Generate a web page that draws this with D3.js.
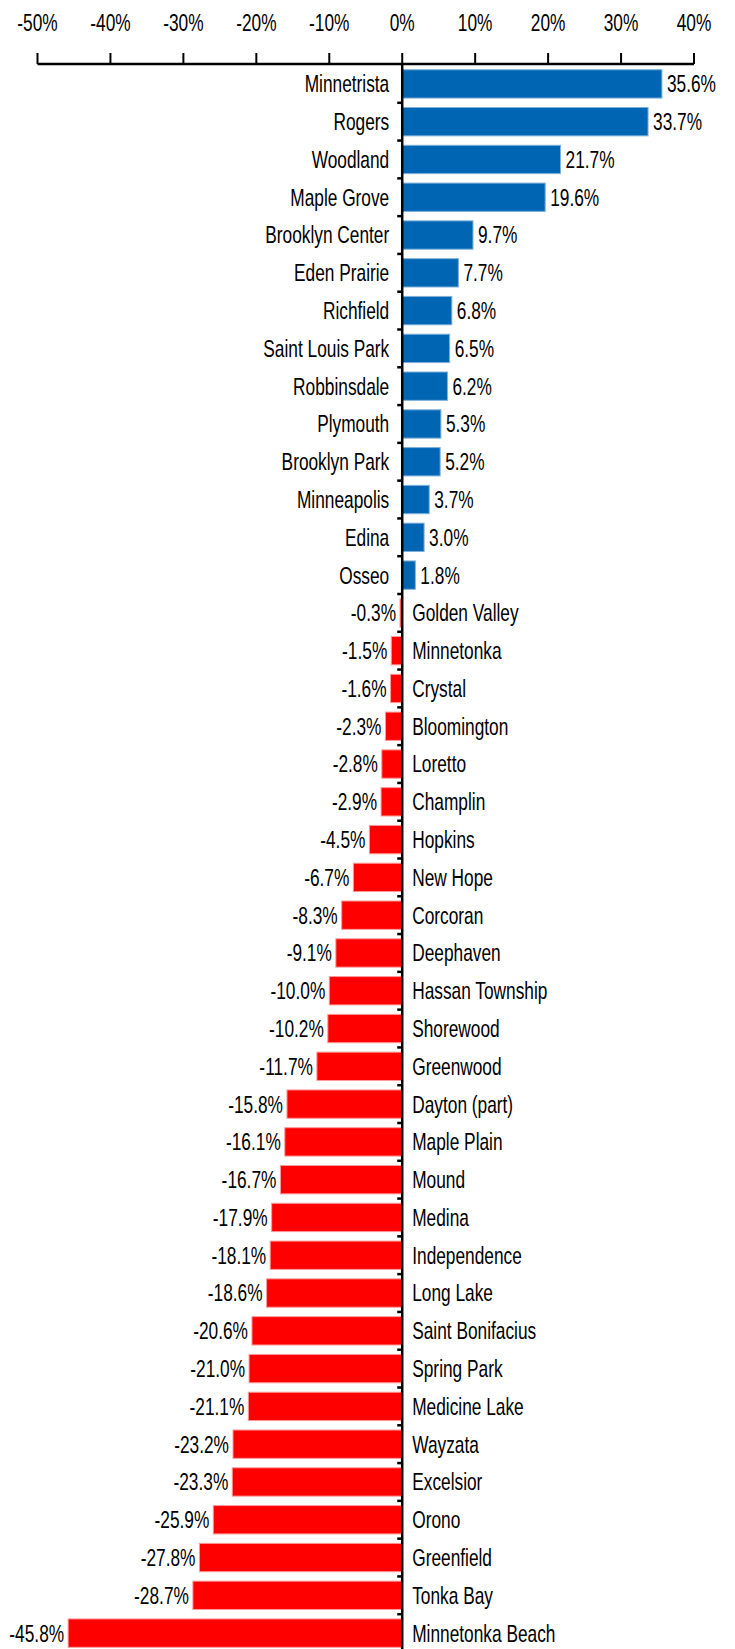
<!DOCTYPE html>
<html>
<head>
<meta charset="utf-8">
<script src="https://cdn.jsdelivr.net/npm/d3@7"></script>
<style>
  html, body { margin: 0; padding: 0; background: #fff; }
  svg text { font-family: "Liberation Sans", Arial, sans-serif; fill: #000; }
</style>
</head>
<body>
<div id="chart"></div>
<script>
// ---- data ----
const cities = [
  'Minnetrista', 'Rogers', 'Woodland', 'Maple Grove', 'Brooklyn Center', 'Eden Prairie',
  'Richfield', 'Saint Louis Park', 'Robbinsdale', 'Plymouth', 'Brooklyn Park', 'Minneapolis',
  'Edina', 'Osseo', 'Golden Valley', 'Minnetonka', 'Crystal', 'Bloomington', 'Loretto',
  'Champlin', 'Hopkins', 'New Hope', 'Corcoran', 'Deephaven', 'Hassan Township', 'Shorewood',
  'Greenwood', 'Dayton (part)', 'Maple Plain', 'Mound', 'Medina', 'Independence', 'Long Lake',
  'Saint Bonifacius', 'Spring Park', 'Medicine Lake', 'Wayzata', 'Excelsior', 'Orono',
  'Greenfield', 'Tonka Bay', 'Minnetonka Beach'
];
const change = [
  35.6, 33.7, 21.7, 19.6, 9.7, 7.7,
  6.8, 6.5, 6.2, 5.3, 5.2, 3.7,
  3.0, 1.8, -0.3, -1.5, -1.6, -2.3, -2.8,
  -2.9, -4.5, -6.7, -8.3, -9.1, -10.0, -10.2,
  -11.7, -15.8, -16.1, -16.7, -17.9, -18.1, -18.6,
  -20.6, -21.0, -21.1, -23.2, -23.3, -25.9,
  -27.8, -28.7, -45.8
];
const xTicks = [-50, -40, -30, -20, -10, 0, 10, 20, 30, 40];

const rows = cities.map((c, i) => ({ city: c, v: change[i] }));

const W = 735, H = 1649;
// source text is a narrow face, stretched a bit in height
const SX = 0.865, SY = 1.2;

const svg = d3.select('#chart').append('svg')
  .attr('width', W).attr('height', H);

const x = d3.scaleLinear().domain([-50, 40]).range([37.5, 694]);
const y = d3.scaleBand().domain(cities).range([65, 1652])
  .paddingInner(0.25).paddingOuter(0.125);

const x0 = x(0);
const fmt = v => v.toFixed(1) + '%';

function label(g, tx, ty, txt, anchor) {
  g.append('text')
    .attr('transform', `translate(${tx},${ty}) scale(${SX},${SY})`)
    .attr('text-anchor', anchor)
    .attr('dy', '0.35em')
    .attr('font-size', 20)
    .text(txt);
}

// bars
svg.append('g').selectAll('rect')
  .data(rows).join('rect')
  .attr('x', d => x(Math.min(0, d.v)))
  .attr('y', d => y(d.city))
  .attr('width', d => Math.abs(x(d.v) - x0))
  .attr('height', y.bandwidth())
  .attr('fill', d => d.v >= 0 ? '#0066b3' : '#ff0000')
  .attr('stroke', d => d.v >= 0 ? '#7fb0da' : '#ff9a9a')
  .attr('stroke-width', 1);

// top axis
const axisG = svg.append('g').attr('transform', 'translate(0,64)');
axisG.append('line')
  .attr('x1', x(-50)).attr('x2', x(40))
  .attr('stroke', '#000').attr('stroke-width', 2.5);
axisG.selectAll('.tk').data(xTicks).join('line')
  .attr('class', 'tk')
  .attr('x1', d => x(d)).attr('x2', d => x(d))
  .attr('y1', 0).attr('y2', -11)
  .attr('stroke', '#000').attr('stroke-width', 2);
xTicks.forEach(t => label(axisG, x(t), -41, t + '%', 'middle'));

// zero axis with small ticks between categories
const gap = (y.step() - y.bandwidth()) / 2;
svg.append('line')
  .attr('x1', x0).attr('x2', x0)
  .attr('y1', 64).attr('y2', H)
  .attr('stroke', '#000').attr('stroke-width', 2.5);
svg.append('g').selectAll('line')
  .data(cities.slice(1)).join('line')
  .attr('x1', x0 - 5).attr('x2', x0)
  .attr('y1', d => y(d) - gap).attr('y2', d => y(d) - gap)
  .attr('stroke', '#000').attr('stroke-width', 2.5);

// labels
const lab = svg.append('g');
rows.forEach(d => {
  const cy = y(d.city) + y.bandwidth() / 2;
  if (d.v >= 0) {
    label(lab, x0 - 13, cy, d.city, 'end');
    label(lab, x(d.v) + 5, cy, fmt(d.v), 'start');
  } else {
    label(lab, x0 + 10, cy, d.city, 'start');
    label(lab, x(d.v) - 4, cy, fmt(d.v), 'end');
  }
});
</script>
</body>
</html>
